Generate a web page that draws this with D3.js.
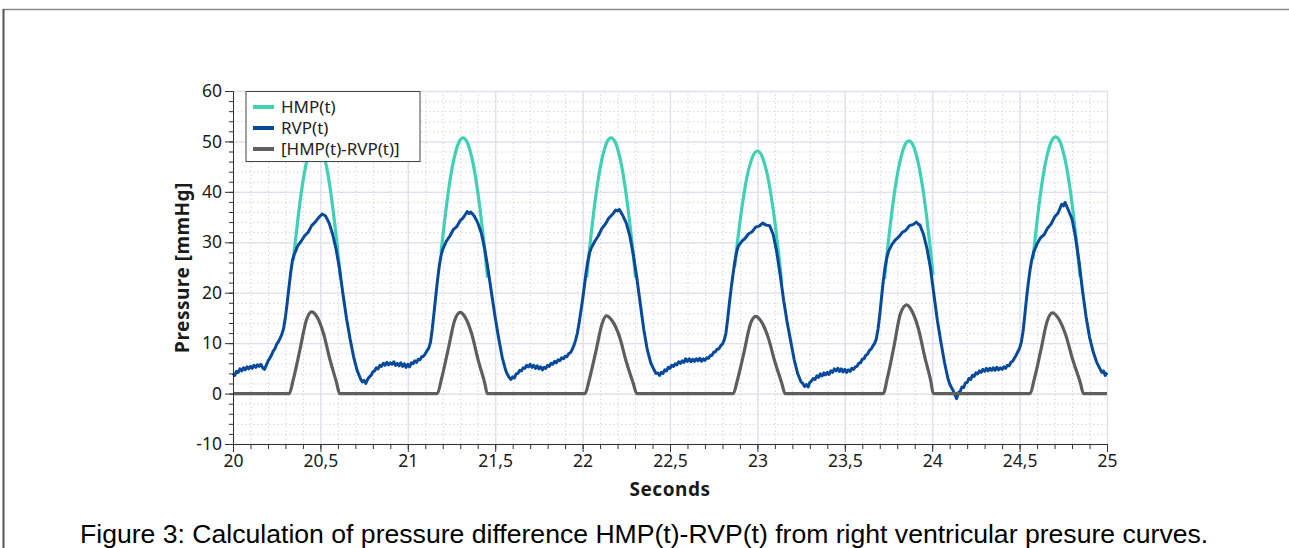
<!DOCTYPE html>
<html>
<head>
<meta charset="utf-8">
<script src="https://cdn.jsdelivr.net/npm/d3@7"></script>
<style>
  body { margin: 0; background: #fff; }
  svg { display: block; }
  .tick text { font-family: "Noto Sans", "Open Sans", sans-serif; font-size: 17.5px; fill: #1a1a1a; }
  .axis path, .axis line { stroke: #333; }
  .grid-major line { stroke: #dde0ee; stroke-width: 1.3; }
  .grid-minor line { stroke: #d3d7e3; stroke-dasharray: 1.5 2.5; }
  .grid path { display: none; }
</style>
</head>
<body>
<div id="chart"></div>
<script>
// Ticks
const xTicks = [20, 20.5, 21, 21.5, 22, 22.5, 23, 23.5, 24, 24.5, 25];
const yTicks = [-10, 0, 10, 20, 30, 40, 50, 60];
const seriesNames = ["HMP(t)", "RVP(t)", "[HMP(t)-RVP(t)]"];

// RVP(t) - right ventricular pressure [s, mmHg]
const rvp = [
  [20.00,4.0],[20.01,3.6],[20.02,4.4],[20.03,4.2],[20.04,4.9],[20.05,4.5],[20.06,5.1],[20.07,4.7],[20.08,5.3],[20.09,4.9],
  [20.10,5.4],[20.11,5.0],[20.12,5.6],[20.13,5.2],[20.14,5.7],[20.15,5.4],[20.16,5.8],[20.17,5.1],[20.18,4.8],[20.19,5.6],
  [20.20,6.4],[20.21,7.0],[20.22,7.6],[20.23,8.4],[20.24,8.9],[20.25,9.8],[20.26,10.3],[20.27,11.0],[20.28,11.8],[20.29,13.0],
  [20.30,15.2],[20.31,18.0],[20.32,21.0],[20.33,24.0],[20.34,26.4],[20.35,27.6],[20.36,28.4],[20.37,29.3],[20.39,30.2],[20.41,31.3],
  [20.43,32.0],[20.45,33.3],[20.47,34.0],[20.49,34.9],[20.51,35.6],[20.52,35.4],[20.53,35.2],[20.55,33.8],[20.57,31.6],[20.59,28.6],
  [20.61,24.6],[20.63,19.5],[20.65,14.8],[20.67,10.8],[20.69,7.3],[20.71,4.6],[20.73,2.9],[20.74,2.3],[20.75,2.6],[20.76,2.0],
  [20.77,2.8],[20.78,3.3],[20.79,3.6],[20.80,4.3],[20.81,4.5],[20.82,5.1],[20.83,4.9],[20.84,5.6],[20.85,5.4],[20.86,6.0],
  [20.87,5.6],[20.88,6.2],[20.89,5.7],[20.90,6.1],[20.91,5.8],[20.92,6.3],[20.93,5.6],[20.94,6.0],[20.95,5.5],[20.96,6.1],
  [20.97,5.4],[20.98,5.9],[20.99,5.2],[21.00,5.8],[21.01,5.3],[21.02,6.1],[21.03,5.9],[21.04,6.5],[21.05,6.2],[21.06,6.8],
  [21.07,6.7],[21.08,7.3],[21.09,7.4],[21.10,7.9],[21.11,8.5],[21.12,9.0],[21.13,10.2],[21.14,12.8],[21.15,16.0],[21.16,19.3],
  [21.17,22.5],[21.18,25.3],[21.19,27.4],[21.20,28.6],[21.22,30.2],[21.24,31.2],[21.26,32.5],[21.28,33.1],[21.30,34.3],[21.32,35.0],
  [21.34,36.1],[21.35,35.7],[21.36,36.0],[21.38,35.2],[21.40,33.9],[21.42,31.9],[21.44,28.7],[21.46,24.4],[21.48,19.7],[21.50,15.1],
  [21.52,10.9],[21.54,7.2],[21.56,4.6],[21.57,3.8],[21.58,3.2],[21.59,2.8],[21.60,3.3],[21.61,3.1],[21.62,3.9],[21.63,4.0],
  [21.64,4.6],[21.65,4.5],[21.66,5.1],[21.67,5.0],[21.68,5.6],[21.69,5.3],[21.70,5.8],[21.71,5.2],[21.72,5.6],[21.73,5.0],
  [21.74,5.5],[21.75,4.9],[21.76,5.3],[21.77,4.7],[21.78,5.2],[21.79,5.0],[21.80,5.6],[21.81,5.4],[21.82,6.0],[21.83,5.8],
  [21.84,6.4],[21.85,6.1],[21.86,6.7],[21.87,6.5],[21.88,7.1],[21.89,6.9],[21.90,7.4],[21.91,7.3],[21.92,7.9],[21.93,8.1],
  [21.94,8.7],[21.95,9.5],[21.96,10.6],[21.97,12.0],[21.98,14.0],[21.99,16.3],[22.00,18.6],[22.01,21.3],[22.02,24.0],[22.03,26.3],
  [22.04,27.9],[22.05,28.9],[22.07,30.2],[22.09,31.3],[22.11,32.7],[22.13,33.6],[22.15,34.8],[22.17,35.5],[22.19,36.4],[22.20,36.2],
  [22.21,36.5],[22.23,35.3],[22.25,33.8],[22.27,31.3],[22.29,27.6],[22.31,23.0],[22.33,17.8],[22.35,12.7],[22.37,8.7],[22.39,6.1],
  [22.41,4.6],[22.42,4.0],[22.43,4.1],[22.44,3.6],[22.45,4.2],[22.46,4.0],[22.47,4.7],[22.48,4.5],[22.49,5.2],[22.50,5.0],
  [22.51,5.6],[22.52,5.4],[22.53,5.9],[22.54,5.7],[22.55,6.3],[22.56,6.0],[22.57,6.5],[22.58,6.2],[22.59,6.9],[22.60,6.4],
  [22.61,6.9],[22.62,6.3],[22.63,6.8],[22.64,6.4],[22.65,6.9],[22.66,6.5],[22.67,7.0],[22.68,6.4],[22.69,6.9],[22.70,6.6],
  [22.71,7.1],[22.72,7.0],[22.73,7.5],[22.74,7.6],[22.75,8.2],[22.76,8.3],[22.77,8.8],[22.78,8.9],[22.79,9.5],[22.80,9.8],
  [22.81,10.6],[22.82,12.0],[22.83,14.8],[22.84,18.0],[22.85,20.9],[22.86,23.5],[22.87,26.0],[22.88,27.9],[22.89,29.2],[22.91,30.2],
  [22.93,30.8],[22.95,31.7],[22.97,32.1],[22.99,33.0],[23.01,33.2],[23.03,33.8],[23.05,33.4],[23.07,33.3],[23.09,31.6],[23.11,28.2],
  [23.13,23.6],[23.15,18.5],[23.17,14.2],[23.19,10.5],[23.21,6.8],[23.23,4.0],[23.25,2.3],[23.26,2.0],[23.27,1.4],[23.28,1.8],
  [23.29,1.3],[23.30,2.2],[23.31,2.5],[23.32,3.0],[23.33,2.8],[23.34,3.5],[23.35,3.2],[23.36,3.9],[23.37,3.5],[23.38,4.1],
  [23.39,3.7],[23.40,4.2],[23.41,3.8],[23.42,4.5],[23.43,4.2],[23.44,4.9],[23.45,4.5],[23.46,5.0],[23.47,4.4],[23.48,4.9],
  [23.49,4.3],[23.50,4.8],[23.51,4.2],[23.52,4.7],[23.53,4.4],[23.54,5.0],[23.55,4.8],[23.56,5.3],[23.57,5.4],[23.58,6.0],
  [23.59,6.1],[23.60,6.8],[23.61,6.9],[23.62,7.6],[23.63,7.8],[23.64,8.5],[23.65,8.8],[23.66,9.4],[23.67,9.9],[23.68,10.8],
  [23.69,12.8],[23.70,15.6],[23.71,19.0],[23.72,22.3],[23.73,25.0],[23.74,26.9],[23.75,28.2],[23.77,29.6],[23.79,30.5],[23.81,31.1],
  [23.83,32.0],[23.85,32.4],[23.87,33.3],[23.89,33.5],[23.91,34.0],[23.92,33.6],[23.93,33.4],[23.95,31.6],[23.97,28.8],[23.99,24.9],
  [24.01,19.6],[24.03,14.4],[24.05,10.2],[24.07,6.2],[24.09,3.0],[24.10,1.9],[24.11,1.2],[24.12,0.6],[24.13,-0.2],[24.14,-1.0],
  [24.15,0.2],[24.16,0.4],[24.17,1.3],[24.18,1.2],[24.19,2.1],[24.20,2.2],[24.21,3.0],[24.22,2.8],[24.23,3.6],[24.24,3.4],
  [24.25,4.1],[24.26,3.9],[24.27,4.5],[24.28,4.2],[24.29,4.8],[24.30,4.4],[24.31,5.0],[24.32,4.5],[24.33,5.0],[24.34,4.6],
  [24.35,5.1],[24.36,4.6],[24.37,5.2],[24.38,4.7],[24.39,5.1],[24.40,4.8],[24.41,5.3],[24.42,5.0],[24.43,5.6],[24.44,5.5],
  [24.45,6.2],[24.46,6.4],[24.47,7.0],[24.48,7.6],[24.49,8.3],[24.50,9.0],[24.51,10.2],[24.52,12.4],[24.53,15.6],[24.54,19.0],
  [24.55,22.0],[24.56,24.6],[24.57,26.6],[24.58,28.0],[24.60,29.7],[24.62,30.9],[24.64,31.5],[24.66,32.8],[24.68,33.6],[24.70,35.0],
  [24.72,35.8],[24.74,37.5],[24.75,37.2],[24.76,37.9],[24.78,36.3],[24.80,34.6],[24.82,31.0],[24.84,26.2],[24.86,20.4],[24.88,15.3],
  [24.90,11.2],[24.92,8.4],[24.94,6.3],[24.96,4.9],[24.97,4.2],[24.98,4.5],[24.99,3.6],[25.00,4.2]
];

// HMP(t) - one arc per beat
const hmp1 = [[20.345,26.4],[20.355,29.7],[20.375,35.7],[20.395,40.9],[20.415,45.0],[20.435,48.0],[20.455,49.9],[20.475,50.5],[20.495,49.9],[20.515,48.0],[20.535,45.0],[20.555,40.9],[20.575,35.7],[20.595,29.7],[20.615,22.9]];
const hmp2 = [[21.190,27.8],[21.196,29.8],[21.216,35.8],[21.236,41.0],[21.256,45.2],[21.276,48.2],[21.296,50.1],[21.316,50.7],[21.336,50.1],[21.356,48.2],[21.376,45.2],[21.396,41.0],[21.416,35.8],[21.436,29.8],[21.456,23.0]];
const hmp3 = [[22.023,23.0],[22.043,29.8],[22.063,35.8],[22.083,41.0],[22.103,45.2],[22.123,48.2],[22.143,50.1],[22.163,50.7],[22.183,50.1],[22.203,48.2],[22.223,45.2],[22.243,41.0],[22.263,35.8],[22.283,29.8],[22.303,23.0]];
const hmp4 = [[22.870,25.1],[22.880,28.3],[22.900,34.0],[22.920,38.9],[22.940,42.9],[22.960,45.7],[22.980,47.5],[23.000,48.1],[23.020,47.5],[23.040,45.7],[23.060,42.9],[23.080,38.9],[23.100,34.0],[23.120,28.3],[23.140,21.8]];
const hmp5 = [[23.727,22.7],[23.747,29.5],[23.767,35.4],[23.787,40.5],[23.807,44.6],[23.827,47.6],[23.847,49.5],[23.867,50.1],[23.887,49.5],[23.907,47.6],[23.927,44.6],[23.947,40.5],[23.967,35.4],[23.987,29.5],[24.005,23.5]];
const hmp6 = [[24.576,26.6],[24.586,29.9],[24.606,36.0],[24.626,41.2],[24.646,45.4],[24.666,48.4],[24.686,50.3],[24.706,50.9],[24.726,50.3],[24.746,48.4],[24.766,45.4],[24.786,41.2],[24.806,36.0],[24.826,29.9],[24.846,23.1]];

// HMP(t)-RVP(t), zero outside ejection
const diff = [
  [20.000,0],
  [20.322,0],[20.345,2.8],[20.383,8.7],[20.420,14.6],[20.450,16.2],[20.479,15.3],[20.517,12.0],[20.555,6.7],[20.593,2.1],[20.610,0],
  [21.169,0],[21.192,2.8],[21.230,8.6],[21.268,14.5],[21.300,16.1],[21.327,15.2],[21.365,11.9],[21.403,6.6],[21.440,2.1],[21.455,0],
  [22.014,0],[22.037,2.6],[22.075,8.2],[22.112,13.9],[22.135,15.4],[22.168,14.5],[22.210,11.4],[22.250,6.3],[22.290,2.0],[22.310,0],
  [22.862,0],[22.885,2.6],[22.923,8.1],[22.960,13.8],[22.990,15.3],[23.020,14.4],[23.060,11.3],[23.100,6.3],[23.140,2.0],[23.158,0],
  [23.720,0],[23.743,3.0],[23.781,9.3],[23.818,15.8],[23.854,17.6],[23.882,16.5],[23.920,13.0],[23.958,7.2],[23.993,2.3],[24.006,0],
  [24.560,0],[24.583,2.7],[24.621,8.5],[24.658,14.4],[24.688,16.0],[24.720,15.0],[24.762,11.8],[24.805,6.6],[24.848,2.1],[24.865,0],
  [25.000,0]
];

const hmpArcs = [hmp1, hmp2, hmp3, hmp4, hmp5, hmp6];
const colors = ["#3fd0b5", "#074a9b", "#5e5e5e"];

const W = 1289, H = 548;
const margin = { top: 91, right: 182, bottom: 104, left: 233 };
const width = W - margin.left - margin.right;
const height = H - margin.top - margin.bottom;

const root = d3.select("#chart").append("svg")
    .attr("width", W)
    .attr("height", H);

// page frame
root.append("line").attr("x1", 3).attr("x2", W).attr("y1", 9.5).attr("y2", 9.5)
    .attr("stroke", "#8a8a8a").attr("stroke-width", 1.5);
root.append("line").attr("x1", 3.5).attr("x2", 3.5).attr("y1", 9).attr("y2", H)
    .attr("stroke", "#555").attr("stroke-width", 2);

const svg = root.append("g")
    .attr("transform", `translate(${margin.left},${margin.top})`);

const x = d3.scaleLinear().domain([20, 25]).range([0, width]);
const y = d3.scaleLinear().domain([-10, 60]).range([height, 0]);

// Grid
svg.append("g").attr("class", "grid grid-minor")
    .attr("transform", `translate(0,${height})`)
    .call(d3.axisBottom(x).ticks(50).tickSize(-height).tickFormat(""));
svg.append("g").attr("class", "grid grid-minor")
    .call(d3.axisLeft(y).ticks(35).tickSize(-width).tickFormat(""));
svg.append("g").attr("class", "grid grid-major")
    .attr("transform", `translate(0,${height})`)
    .call(d3.axisBottom(x).tickValues(xTicks).tickSize(-height).tickFormat(""));
svg.append("g").attr("class", "grid grid-major")
    .call(d3.axisLeft(y).tickValues(yTicks).tickSize(-width).tickFormat(""));

// Lines
const line = d3.line().x(d => x(d[0])).y(d => y(d[1]));
const smooth = d3.line().x(d => x(d[0])).y(d => y(d[1])).curve(d3.curveMonotoneX);

svg.selectAll(".hmp")
    .data(hmpArcs)
    .join("path")
    .attr("class", "hmp")
    .attr("d", smooth)
    .attr("fill", "none")
    .attr("stroke", colors[0])
    .attr("stroke-width", 3.2);

svg.append("path")
    .datum(rvp)
    .attr("d", line)
    .attr("fill", "none")
    .attr("stroke", colors[1])
    .attr("stroke-width", 3)
    .attr("stroke-linejoin", "round");

svg.append("path")
    .datum(diff)
    .attr("d", smooth)
    .attr("fill", "none")
    .attr("stroke", colors[2])
    .attr("stroke-width", 3.2)
    .attr("stroke-linejoin", "round");

// Axes
const fmt = d => String(d).replace(".", ",");

svg.append("g").attr("class", "axis")
    .attr("transform", `translate(0,${height})`)
    .call(d3.axisBottom(x).ticks(50).tickSize(5).tickFormat(""))
    .call(g => g.select(".domain").remove());
svg.append("g").attr("class", "axis")
    .attr("transform", `translate(0,${height})`)
    .call(d3.axisBottom(x).tickValues(xTicks).tickSize(8).tickPadding(3).tickFormat(fmt));

svg.append("g").attr("class", "axis")
    .call(d3.axisLeft(y).ticks(35).tickSize(4).tickFormat(""))
    .call(g => g.select(".domain").remove());
svg.append("g").attr("class", "axis")
    .call(d3.axisLeft(y).tickValues(yTicks).tickSize(8).tickPadding(3).tickFormat(fmt));

// Axis titles
svg.append("text")
    .attr("x", width / 2)
    .attr("y", height + 52)
    .attr("text-anchor", "middle")
    .style("font-family", "'Noto Sans', sans-serif")
    .style("font-weight", "bold")
    .style("font-size", "19px")
    .style("letter-spacing", "0.5px")
    .attr("fill", "#1a1a1a")
    .text("Seconds");

svg.append("text")
    .attr("transform", `translate(-44,${height / 2}) rotate(-90)`)
    .attr("text-anchor", "middle")
    .style("font-family", "'Noto Sans', sans-serif")
    .style("font-weight", "bold")
    .style("font-size", "19px")
    .style("letter-spacing", "0.5px")
    .attr("fill", "#1a1a1a")
    .text("Pressure [mmHg]");

// Legend
const legend = svg.append("g").attr("transform", "translate(13,0.5)");
legend.append("rect")
    .attr("width", 174).attr("height", 70)
    .attr("fill", "#fff")
    .attr("stroke", "#444").attr("stroke-width", 1);

const item = legend.selectAll(".item")
    .data(seriesNames)
    .join("g")
    .attr("class", "item")
    .attr("transform", (d, i) => `translate(0,${15.5 + i * 21})`);
item.append("line")
    .attr("x1", 7).attr("x2", 28)
    .attr("stroke", (d, i) => colors[i])
    .attr("stroke-width", 4);
item.append("text")
    .attr("x", 35).attr("dy", "0.35em")
    .style("font-family", "'Noto Sans', sans-serif")
    .style("font-size", "17px")
    .attr("fill", "#222")
    .text(d => d);

// Caption
root.append("text")
    .attr("x", 80)
    .attr("y", 543)
    .style("font-family", "'Liberation Sans', Arial, sans-serif")
    .style("font-size", "26.6px")
    .attr("fill", "#000")
    .text("Figure 3: Calculation of pressure difference HMP(t)-RVP(t) from right ventricular presure curves.");
</script>
</body>
</html>
